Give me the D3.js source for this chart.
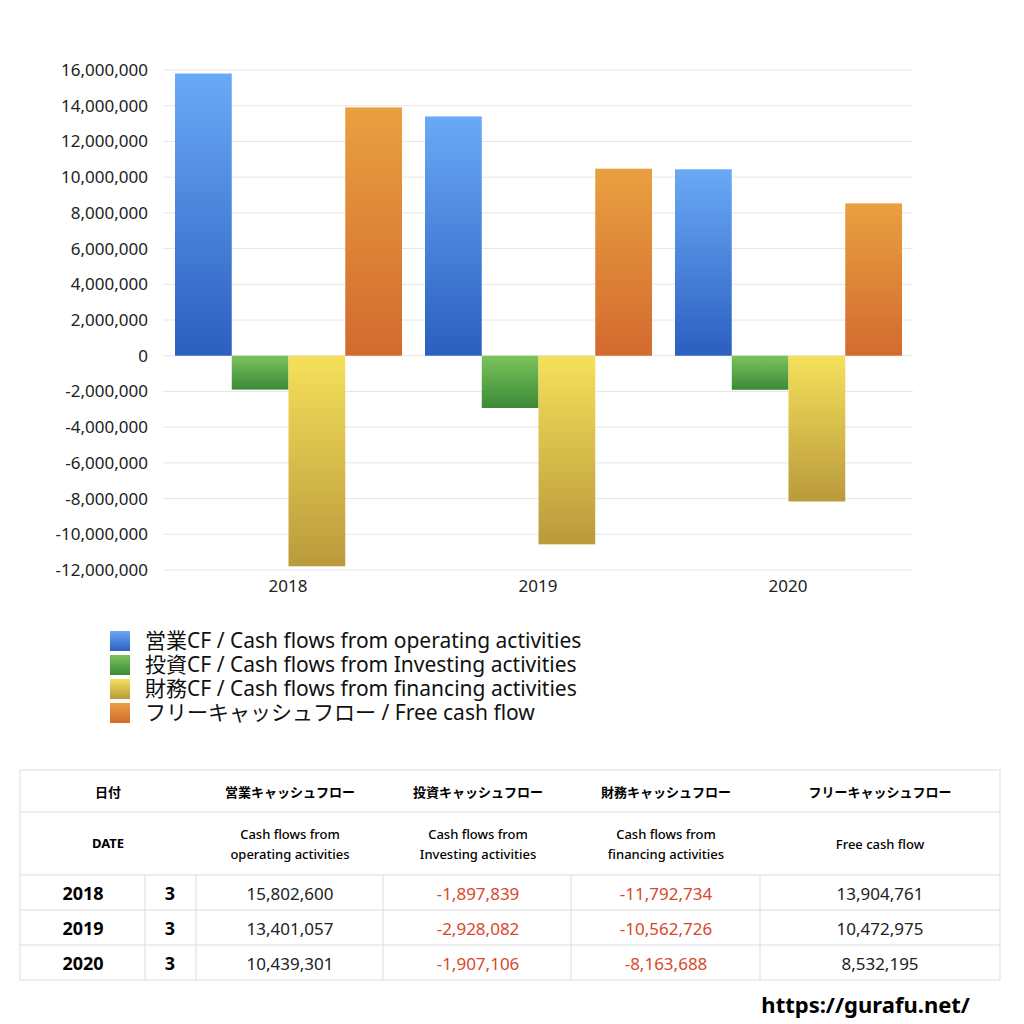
<!DOCTYPE html>
<html><head><meta charset="utf-8">
<script src="https://cdn.jsdelivr.net/npm/d3@7"></script>
<style>body{margin:0;background:#fff}svg{font-family:"Noto Sans","Noto Sans CJK JP",sans-serif}</style>
</head><body><svg id="c" width="1024" height="1024"></svg>
<script>
const years = ["2018","2019","2020"];
const months = ["3","3","3"];
const operating = [15802600, 13401057, 10439301];
const investing = [-1897839, -2928082, -1907106];
const financing = [-11792734, -10562726, -8163688];
const freeCF = [13904761, 10472975, 8532195];
const seriesNames = ["営業CF / Cash flows from operating activities","投資CF / Cash flows from Investing activities","財務CF / Cash flows from financing activities","フリーキャッシュフロー / Free cash flow"];
const headerJa = ["営業キャッシュフロー","投資キャッシュフロー","財務キャッシュフロー","フリーキャッシュフロー"];
const headerEn = [["Cash flows from","operating activities"],["Cash flows from","Investing activities"],["Cash flows from","financing activities"],["Free cash flow"]];
const yTicks = [16e6,14e6,12e6,10e6,8e6,6e6,4e6,2e6,0,-2e6,-4e6,-6e6,-8e6,-10e6,-12e6];

const series=[operating,investing,financing,freeCF];
const grads=[["#6aa9f6","#2b5fc0"],["#7cc35c","#3a8a37"],["#f6e05a","#b99a3c"],["#e9a040","#d36a2f"]];
const svg=d3.select("#c");
const defs=svg.append("defs");
grads.forEach((g,i)=>{const lg=defs.append("linearGradient").attr("id","g"+i).attr("x1",0).attr("x2",0).attr("y1",0).attr("y2",1);
lg.append("stop").attr("offset","0%").attr("stop-color",g[0]);lg.append("stop").attr("offset","100%").attr("stop-color",g[1]);});
const y=d3.scaleLinear().domain([-12e6,16e6]).range([570,70]);
const x=d3.scaleBand().domain(years).range([163,913]);
const xs=d3.scaleBand().domain([0,1,2,3]).range([12,x.bandwidth()-11]);
const fmt=v=>d3.format(",")(v).replace("−","-");
svg.append("g").selectAll("line").data(yTicks).join("line").attr("x1",163).attr("x2",913)
 .attr("y1",d=>y(d)).attr("y2",d=>y(d)).attr("stroke","#e6e6e6");
svg.append("g").selectAll("text").data(yTicks).join("text").attr("x",148).attr("y",d=>y(d)+6)
 .attr("text-anchor","end").attr("font-size",17).attr("fill","#222").text(d=>fmt(d));
series.forEach((s,i)=>{svg.append("g").selectAll("rect").data(s).join("rect")
 .attr("x",(d,j)=>x(years[j])+xs(i)).attr("width",xs.bandwidth())
 .attr("y",d=>y(Math.max(0,d))).attr("height",d=>Math.abs(y(d)-y(0))).attr("fill","url(#g"+i+")");});
svg.append("g").selectAll("text").data(years).join("text").attr("x",d=>x(d)+x.bandwidth()/2).attr("y",592)
 .attr("text-anchor","middle").attr("font-size",17).attr("fill","#222").text(d=>d);
// legend
seriesNames.forEach((n,i)=>{const yy=631+i*24;
 svg.append("rect").attr("x",110).attr("y",yy).attr("width",20).attr("height",20).attr("fill","url(#g"+i+")");
 svg.append("text").attr("x",145).attr("y",yy+17).attr("font-size",21).attr("fill","#111").text(n);});
// table
const rows=[770,812,875,910,945,980];
const T=svg.append("g");
T.append("rect").attr("x",20).attr("y",770).attr("width",980).attr("height",210).attr("fill","none").attr("stroke","#ddd");
rows.slice(1,5).forEach(r=>T.append("line").attr("x1",20).attr("x2",1000).attr("y1",r).attr("y2",r).attr("stroke","#ddd"));
[145,196,383,571,760].forEach(c=>T.append("line").attr("x1",c).attr("x2",c).attr("y1",875).attr("y2",980).attr("stroke","#ddd"));
T.append("text").attr("x",108).attr("y",797).attr("text-anchor","middle").attr("font-size",13).attr("font-weight","bold").text("日付");
T.append("text").attr("x",108).attr("y",848).attr("text-anchor","middle").attr("font-size",13).attr("font-weight","bold").text("DATE");
const cc=[290,478,666,880];
headerJa.forEach((h,i)=>T.append("text").attr("x",cc[i]).attr("y",797).attr("text-anchor","middle").attr("font-size",13).attr("font-weight","bold").text(h));
headerEn.forEach((h,i)=>h.forEach((l,k)=>T.append("text").attr("x",cc[i]).attr("y",h.length==1?849:839+k*20).attr("text-anchor","middle").attr("font-size",13).attr("font-weight","500").text(l)));
years.forEach((yr,j)=>{const yy=rows[j+2]+25;
 T.append("text").attr("x",83).attr("y",yy).attr("text-anchor","middle").attr("font-size",18).attr("font-weight","bold").text(yr);
 T.append("text").attr("x",170).attr("y",yy).attr("text-anchor","middle").attr("font-size",18).attr("font-weight","bold").text(months[j]);
 series.forEach((s,i)=>T.append("text").attr("x",cc[i]).attr("y",yy).attr("text-anchor","middle").attr("font-size",17)
  .attr("fill",s[j]<0?"#d9472b":"#222").text(fmt(s[j])));});
svg.append("text").attr("x",970).attr("y",1013).attr("text-anchor","end").attr("font-size",22).attr("font-weight","bold").text("https://gurafu.net/");
</script></body></html>
